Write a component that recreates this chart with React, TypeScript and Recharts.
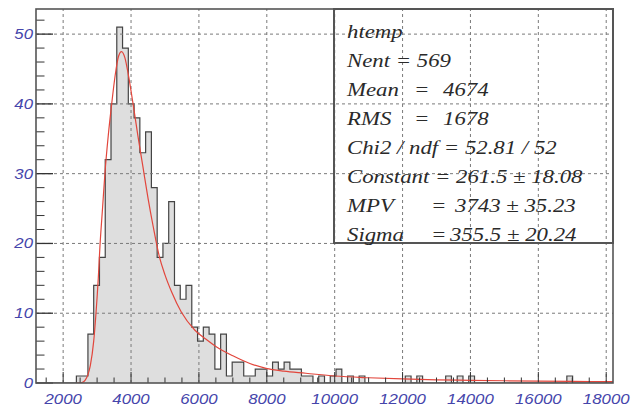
import React from 'react';
import { ComposedChart, Area, Line, XAxis, YAxis, ReferenceLine } from 'recharts';

// Histogram definition: 100 bins from 1200 to 18200
const BIN_LOW = 1200;
const BIN_WIDTH = 170;
const binCounts = [
  0, 0, 0, 0, 0, 0, 0, 1, 1, 7,
  14, 18, 32, 40, 51, 48, 40, 38, 33, 36,
  28, 18, 20, 26, 14, 12, 14, 8, 6, 8,
  7, 2, 7, 1, 3, 3, 1, 1, 2, 2,
  1, 3, 2, 3, 2, 2, 1, 1, 0, 1,
  0, 1, 2, 0, 1, 0, 1, 0, 0, 0,
  0, 0, 0, 0, 1, 0, 1, 0, 0, 0,
  0, 1, 0, 1, 0, 1, 0, 0, 0, 0,
  0, 0, 0, 0, 0, 0, 0, 0, 0, 0,
  0, 0, 1, 0, 0, 0, 0, 0, 0, 0,
];

// Landau fit curve
const fitX = [2400, 2550, 2650, 2730, 2800, 2900, 2960, 3035, 3083, 3160, 3230, 3330, 3430, 3530, 3630, 3720, 3820, 3920, 4060, 4200, 4350, 4500, 4650, 4840, 5000, 5200, 5476, 5875, 6200, 6510, 7000, 7500, 7977, 8500, 9150, 10000, 11000, 12000, 13000, 14000, 15000, 16000, 17000, 18200];
const fitY = [0, 0.05, 0.4, 1.2, 2.5, 6, 9.5, 15, 19.5, 25, 30, 35.5, 40, 44, 46.8, 47.5, 46.6, 44.2, 40, 35.5, 31, 26.5, 22.5, 18, 15.5, 13, 10.2, 7.6, 6.3, 5.2, 3.9, 2.8, 2.1, 1.7, 1.4, 1.0, 0.75, 0.58, 0.46, 0.38, 0.32, 0.27, 0.23, 0.2];

const xMajorTicks = [2000, 4000, 6000, 8000, 10000, 12000, 14000, 16000, 18000];
const yMajorTicks = [0, 10, 20, 30, 40, 50];

const statsTitle = 'htemp';
const statsRows = [
  { label: 'Nent = 569', eq: '', value: '' },
  { label: 'Mean', eq: '=', value: '4674' },
  { label: 'RMS', eq: '=', value: '1678' },
  { label: 'Chi2 / ndf = 52.81 / 52', eq: '', value: '' },
  { label: 'Constant = 261.5 \u00b1 18.08', eq: '', value: '' },
  { label: 'MPV', eq: '=', value: '3743 \u00b1 35.23' },
  { label: 'Sigma', eq: '=', value: '355.5 \u00b1 20.24' },
];

const X_MIN = 1200;
const X_MAX = 18200;
const Y_MAX = 53.6;

const xTicks: number[] = [];
for (let v = 1500; v <= 18000; v += 500) xTicks.push(v);
const yTicks: number[] = [];
for (let v = 0; v <= 52; v += 2) yTicks.push(v);

// Build merged dataset
const rowMap = new Map<number, any>();
for (let i = 0; i <= binCounts.length; i++) {
  const x = BIN_LOW + BIN_WIDTH * i;
  const h = i < binCounts.length ? binCounts[i] : binCounts[binCounts.length - 1];
  rowMap.set(x, { x, h });
}
fitX.forEach((x, i) => {
  const r = rowMap.get(x) || { x };
  r.f = fitY[i];
  rowMap.set(x, r);
});
const rows = Array.from(rowMap.values()).sort((a, b) => a.x - b.x);

const LABEL_COLOR = '#4545ab';
const TICK_COLOR = '#333';

const XTick = (props: any) => {
  const { x, y, payload } = props;
  const v = payload.value;
  const major = v % 2000 === 0;
  const len = major ? 11 : 5.5;
  return (
    <g>
      <line x1={x} y1={y} x2={x} y2={y - len} stroke={TICK_COLOR} strokeWidth={1} />
      {major && (
        <text
          transform={`translate(${x},${y + 21}) scale(1.2,1)`}
          textAnchor="middle"
          fontFamily="Liberation Sans, Arial, sans-serif"
          fontStyle="italic"
          fontSize={14}
          fill={LABEL_COLOR}
        >
          {v}
        </text>
      )}
    </g>
  );
};

const YTick = (props: any) => {
  const { x, y, payload } = props;
  const v = payload.value;
  const major = v % 10 === 0;
  const len = major ? 17 : 8.5;
  return (
    <g>
      <line x1={x} y1={y} x2={x + len} y2={y} stroke={TICK_COLOR} strokeWidth={major ? 1.3 : 1} />
      {major && (
        <text
          transform={`translate(${x - 3},${y + 5}) scale(1.2,1)`}
          textAnchor="end"
          fontFamily="Liberation Sans, Arial, sans-serif"
          fontStyle="italic"
          fontSize={14}
          fill={LABEL_COLOR}
        >
          {v}
        </text>
      )}
    </g>
  );
};

const PLOT_L = 36;
const PLOT_T = 9;
const PLOT_R = 613;
const PLOT_B = 383;

const statText = (s: string, x: number, y: number, key: string) => (
  <text
    key={key}
    transform={`translate(${x},${y}) scale(1.2,1)`}
    fontFamily="Liberation Serif, Times New Roman, serif"
    fontStyle="italic"
    fontSize={19}
    fill="#2a2a2a"
  >
    {s}
  </text>
);

export default function App() {
  const gridX = xMajorTicks;
  const gridY = yMajorTicks.filter((v) => v > 0);
  return (
    <div style={{ position: 'absolute', left: 0, top: 0, width: 633, height: 407, background: '#fff' }}>
      <ComposedChart
        width={633}
        height={407}
        data={rows}
        margin={{ top: PLOT_T, right: 633 - PLOT_R, bottom: 0, left: 0 }}
      >
        <XAxis
          type="number"
          dataKey="x"
          domain={[X_MIN, X_MAX]}
          ticks={xTicks}
          interval={0}
          tick={<XTick />}
          tickSize={0}
          tickMargin={0}
          tickLine={false}
          axisLine={false}
          height={407 - PLOT_B}
          allowDataOverflow
        />
        <YAxis
          type="number"
          domain={[0, Y_MAX]}
          ticks={yTicks}
          interval={0}
          tick={<YTick />}
          tickSize={0}
          tickMargin={0}
          tickLine={false}
          axisLine={false}
          width={PLOT_L}
          allowDataOverflow
        />
        {gridX.map((v) => (
          <ReferenceLine key={'gx' + v} x={v} stroke="#7a7a7a" strokeDasharray="3 3" strokeWidth={1} />
        ))}
        {gridY.map((v) => (
          <ReferenceLine key={'gy' + v} y={v} stroke="#7a7a7a" strokeDasharray="3 3" strokeWidth={1} />
        ))}
        <Area
          dataKey="h"
          type="stepAfter"
          fill="#bdbdbd"
          fillOpacity={0.5}
          stroke="#444"
          strokeWidth={1.2}
          connectNulls
          dot={false}
          activeDot={false}
          isAnimationActive={false}
        />
        <Line
          dataKey="f"
          type="monotone"
          stroke="#e2463c"
          strokeWidth={1.2}
          connectNulls
          dot={false}
          activeDot={false}
          isAnimationActive={false}
        />
      </ComposedChart>
      <svg
        width={633}
        height={407}
        style={{ position: 'absolute', left: 0, top: 0, pointerEvents: 'none' }}
      >
        <rect x={PLOT_L} y={PLOT_T} width={PLOT_R - PLOT_L} height={PLOT_B - PLOT_T} fill="none" stroke="#555" strokeWidth={1.6} />
        <rect x={334} y={PLOT_T} width={PLOT_R - 334} height={243 - PLOT_T} fill="none" stroke="#555" strokeWidth={2} />
        {statText(statsTitle, 347, 38, 't')}
        {statsRows.map((r, i) => {
          const y = 67 + 29 * i;
          const out = [statText(r.label, 347, y, 'l' + i)];
          if (r.eq) {
            const isMR = r.label === 'Mean' || r.label === 'RMS';
            const eqX = isMR ? 414 : 431;
            const valX = isMR ? 443 : r.label === 'MPV' ? 455 : 450;
            out.push(statText(r.eq, eqX, y, 'e' + i));
            out.push(statText(r.value, valX, y, 'v' + i));
          }
          return <g key={'r' + i}>{out}</g>;
        })}
      </svg>
    </div>
  );
}
